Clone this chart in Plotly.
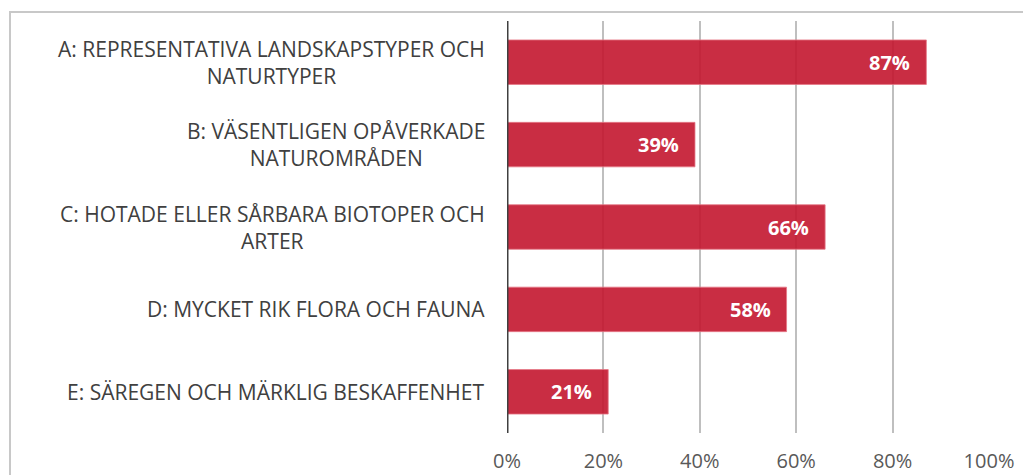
import plotly.graph_objects as go

categories = [
    "A: REPRESENTATIVA LANDSKAPSTYPER OCH<br>NATURTYPER",
    "B: VÄSENTLIGEN OPÅVERKADE<br>NATUROMRÅDEN",
    "C: HOTADE ELLER SÅRBARA BIOTOPER OCH<br>ARTER",
    "D: MYCKET RIK FLORA OCH FAUNA",
    "E: SÄREGEN OCH MÄRKLIG BESKAFFENHET",
]
values = [0.87, 0.39, 0.66, 0.58, 0.21]
value_labels = ["87%", "39%", "66%", "58%", "21%"]
tick_vals = [0, 0.2, 0.4, 0.6, 0.8, 1.0]
tick_text = ["0%", "20%", "40%", "60%", "80%", "100%"]

FONT = "Open Sans"

fig = go.Figure(go.Bar(
    y=categories, x=values, orientation="h",
    marker=dict(color="rgba(195,22,47,0.9)", line=dict(color="rgba(230,120,135,0.8)", width=1)),
    textposition="none",
    width=0.54,
))

# page body has an 8px offset; figure sized so plot area lands at x 507..989, y 21..433
W, H = 1023, 467
L, R, T, B = 499, 42, 13, 42
pw, ph = W - L - R, H - T - B

annotations = []
for c in categories:
    annotations.append(dict(
        x=0, xref="paper", y=c, yref="y", text=c, showarrow=False,
        xanchor="right", xshift=-20, align="center",
        font=dict(size=21, color="#404040", family=FONT),
    ))
for c, v, t in zip(categories, values, value_labels):
    annotations.append(dict(
        x=v, xref="x", y=c, yref="y", text="<b>" + t + "</b>", showarrow=False,
        xanchor="right", xshift=-14,
        font=dict(size=20, color="white", family=FONT),
    ))

fig.update_layout(
    width=W, height=H,
    margin=dict(l=L, r=R, t=T, b=B),
    plot_bgcolor="white", paper_bgcolor="white",
    showlegend=False,
    annotations=annotations,
    xaxis=dict(
        range=[0, 1.0], tickvals=tick_vals, ticktext=tick_text,
        showgrid=True, gridcolor="#BFBFBF", gridwidth=2,
        zeroline=False, showline=False,
        tickfont=dict(size=20, color="#595959", family=FONT),
        ticklabelstandoff=14, automargin=False,
    ),
    yaxis=dict(
        autorange="reversed", showticklabels=False, showgrid=False,
        zeroline=False, showline=False, automargin=False,
    ),
    shapes=[
        dict(type="line", xref="x", yref="paper", x0=0, x1=0, y0=0, y1=1,
             line=dict(color="#404040", width=3), layer="above"),
        dict(type="rect", xref="paper", yref="paper",
             x0=(2 - L) / pw, x1=(W + 5 - L) / pw,
             y0=(T + ph - (H + 5)) / ph, y1=(T + ph - 4) / ph,
             line=dict(color="#C8C8C8", width=2), layer="below"),
    ],
)

fig.write_html("out.html")
